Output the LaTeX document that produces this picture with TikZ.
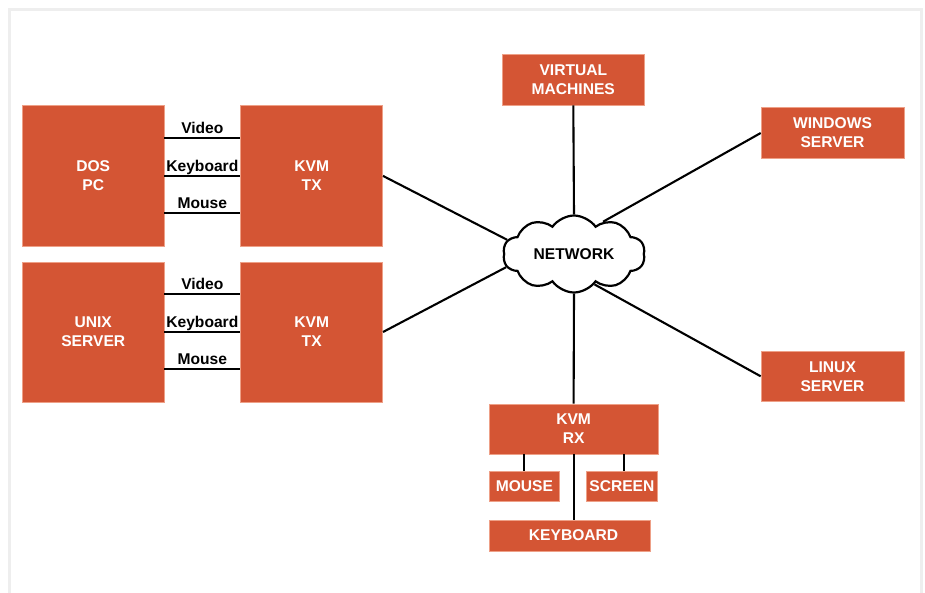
\documentclass[tikz,border=0pt]{standalone}
\usepackage{fontspec}
\setmainfont{Liberation Sans}
\usetikzlibrary{shapes.symbols,calc}
\definecolor{boxfill}{RGB}{212,85,52}
\definecolor{boxedge}{RGB}{238,160,135}
\definecolor{framecol}{RGB}{238,238,238}
\begin{document}
\begin{tikzpicture}[x=1pt,y=-1pt,
  box/.style={fill=boxfill,draw=boxedge,line width=0.6pt,inner sep=0pt,text=white,
    font=\fontsize{15.6}{19}\selectfont\bfseries,align=center},
  lbl/.style={font=\fontsize{15.6}{18}\selectfont\bfseries,inner sep=0pt,anchor=base},
  conn/.style={line width=2.1pt,black}]
\useasboundingbox (0,0) rectangle (925,592);
\draw[framecol,line width=2.5pt] (9.5,594) -- (9.5,9.5) -- (921.5,9.5) -- (921.5,594);

% left side
\node[box,minimum width=141.5pt,minimum height=140.3pt] (dos) at (93.25,175.9) {DOS\\PC};
\node[box,minimum width=142pt,minimum height=140.3pt] (tx1) at (311.7,175.9) {KVM\\TX};
\node[box,minimum width=141.5pt,minimum height=140.3pt] (unix) at (93.25,332) {UNIX\\SERVER};
\node[box,minimum width=142pt,minimum height=140.3pt] (tx2) at (311.7,332) {KVM\\TX};

% right side
\node[box,minimum width=142pt,minimum height=51pt] (vm) at (573.3,79.5) {VIRTUAL\\MACHINES};
\node[box,minimum width=143pt,minimum height=50.6pt] (win) at (832.5,133) {WINDOWS\\SERVER};
\node[box,minimum width=143pt,minimum height=50.7pt] (lin) at (832.5,376.3) {LINUX\\SERVER};
\node[box,minimum width=168.4pt,minimum height=50pt] (rx) at (573.6,429) {KVM\\RX};
\node[box,minimum width=69.8pt,minimum height=30.7pt] (mouse) at (524.4,486.3) {MOUSE};
\node[box,minimum width=71.7pt,minimum height=30.7pt] (screen) at (621.9,486.3) {SCREEN};
\node[box,minimum width=161.2pt,minimum height=31pt] (kb) at (570.1,535.5) {\hspace*{7pt}KEYBOARD};

% network cloud
\node[cloud,draw,line width=2.2pt,fill=white,cloud puffs=10,cloud puff arc=110,aspect=1.85,
  minimum width=142pt,minimum height=77pt,inner sep=0pt,
  font=\fontsize{15.6}{18}\selectfont\bfseries] (net) at (574,254) {NETWORK};

% video / keyboard / mouse links
\foreach \a/\b/\s/\t in {dos/tx1/38/Video, dos/tx1/0/Keyboard, dos/tx1/-37.3/Mouse,
                         unix/tx2/38/Video, unix/tx2/0/Keyboard, unix/tx2/-37/Mouse}{
  \draw[conn] ([yshift=\s pt]\a.east) -- ([yshift=\s pt]\b.west)
     coordinate[midway] (m);
  \node[lbl] at ([yshift=4.5pt]m) {\t};
}

% links to network
\draw[conn] (tx1.east) -- (net.168.8);
\draw[conn] (tx2.east) -- (net.191.1);
\draw[conn] (vm.south) -- (net.north);
\draw[conn] (win.west) -- (net.48.9);
\draw[conn] (lin.west) -- (net.304);
\draw[conn] (net.south) -- (rx.north);

% rx peripherals
\draw[conn] (mouse.north |- rx.south) -- (mouse.north);
\draw[conn] ([xshift=2pt]screen.north |- rx.south) -- ([xshift=2pt]screen.north);
\draw[conn] (rx.south) -- (rx.south |- kb.north);
\end{tikzpicture}
\end{document}
